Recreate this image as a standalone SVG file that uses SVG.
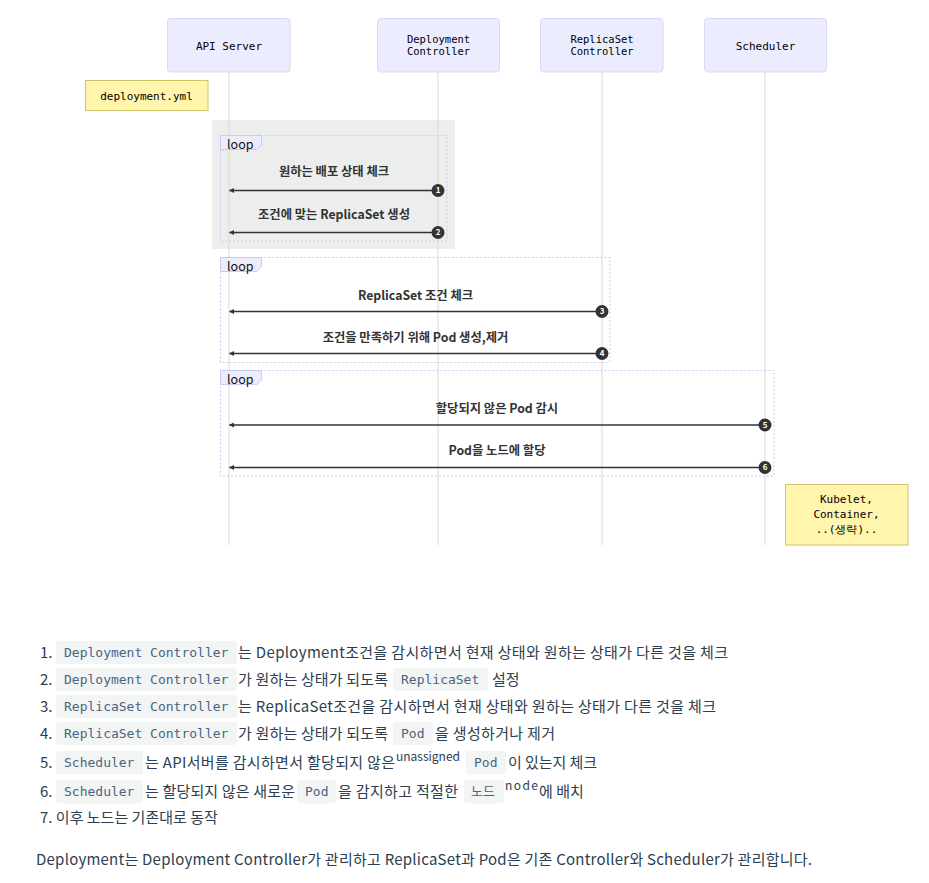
<svg xmlns="http://www.w3.org/2000/svg" width="929" height="883" viewBox="0 0 929 883">
<defs>
<style>
.actor{fill:#ECECFF;stroke:#dcd7f3;stroke-width:1}
.alabel{font-family:"DejaVu Sans Mono","Liberation Mono",monospace;font-size:11px;fill:#000;text-anchor:middle}
.alabel2{font-family:"DejaVu Sans Mono","Liberation Mono",monospace;font-size:10.5px;fill:#000;text-anchor:middle}
.life{stroke:#d8d8d8;stroke-width:1}
.note{fill:#fff5ad;stroke:#cdc46a;stroke-width:1}
.loop{fill:none;stroke:#cfc9ef;stroke-width:1;stroke-dasharray:2,2}
.tab{fill:#ECECFF;stroke:#cfc9ef;stroke-width:1}
.tabt{font-family:"Noto Sans CJK KR","Noto Sans",sans-serif;font-size:12.5px;fill:#111}
.msg{stroke:#333;stroke-width:1.6;fill:none;marker-end:url(#ah)}
.mlabel{font-family:"Noto Sans CJK KR","Noto Sans",sans-serif;font-size:12.3px;font-weight:700;fill:#333;text-anchor:middle}
.seq{fill:#333}
.seqt{font-family:"Noto Sans CJK KR","Noto Sans",sans-serif;font-size:8px;font-weight:700;fill:#fff;text-anchor:middle}
.t{font-family:"Noto Sans CJK KR","Noto Sans",sans-serif;font-size:15px;fill:#2c3e50}
.sup{font-family:"Noto Sans CJK KR","Noto Sans",sans-serif;font-size:12px;fill:#2c3e50}
.cbox{fill:#f3f4f4}
.ct{font-family:"DejaVu Sans Mono","Liberation Mono","Noto Sans CJK KR",monospace;font-size:13px;fill:#476582}
</style>
<marker id="ah" viewBox="0 0 10 10" refX="9" refY="5" markerWidth="5" markerHeight="5" orient="auto-start-reverse" markerUnits="userSpaceOnUse">
<path d="M0,0 L10,5 L0,10 z" fill="#333"/>
</marker>
</defs>

<g id="loop1-bg"><rect x="212" y="120" width="243" height="129" fill="#eceeed"/></g>

<g id="lifelines">
<line class="life" x1="229" y1="72" x2="229" y2="545"/>
<line class="life" x1="438" y1="72" x2="438" y2="545"/>
<line class="life" x1="602" y1="72" x2="602" y2="545"/>
<line class="life" x1="765" y1="72" x2="765" y2="545"/>
</g>

<g id="actor-api"><rect class="actor" x="167.5" y="18.5" width="122.5" height="53.5" rx="3"/><text class="alabel" x="229" y="49.5">API Server</text></g>
<g id="actor-deploy"><rect class="actor" x="377.5" y="18.5" width="122" height="53.5" rx="3"/><text class="alabel2" x="438.5" y="43">Deployment</text><text class="alabel2" x="438.5" y="55">Controller</text></g>
<g id="actor-replica"><rect class="actor" x="540.5" y="18.5" width="122.5" height="53.5" rx="3"/><text class="alabel2" x="602" y="43">ReplicaSet</text><text class="alabel2" x="602" y="55">Controller</text></g>
<g id="actor-scheduler"><rect class="actor" x="704.5" y="18.5" width="122" height="53.5" rx="3"/><text class="alabel" x="765.5" y="49.5">Scheduler</text></g>

<g id="note-deployment"><rect class="note" x="85.5" y="80.5" width="122.5" height="30"/><text class="alabel" x="146.5" y="99.5">deployment.yml</text></g>
<g id="note-kubelet"><rect class="note" x="785.5" y="484.5" width="122.5" height="60.5"/>
<text class="alabel" x="846.5" y="503">Kubelet,</text><text class="alabel" x="846.5" y="518">Container,</text><text class="alabel" x="846.5" y="533">..(생략)..</text></g>

<g id="loop1"><rect class="loop" x="220.5" y="135.5" width="226.5" height="105.5"/>
<polygon class="tab" points="220.5,135.5 261.5,135.5 261.5,145 257,149.5 220.5,149.5"/>
<text class="tabt" x="227" y="149">loop</text></g>
<g id="loop2"><rect class="loop" x="220.5" y="257.5" width="389.5" height="105"/>
<polygon class="tab" points="220.5,257.5 261.5,257.5 261.5,267 257,271.5 220.5,271.5"/>
<text class="tabt" x="227" y="271">loop</text></g>
<g id="loop3"><rect class="loop" x="220.5" y="370.5" width="553.5" height="105.5"/>
<polygon class="tab" points="220.5,370.5 261.5,370.5 261.5,380 257,384.5 220.5,384.5"/>
<text class="tabt" x="227" y="384">loop</text></g>

<g id="connectors">
<line class="msg" x1="438" y1="190.5" x2="229.5" y2="190.5"/>
<line class="msg" x1="438" y1="232.5" x2="229.5" y2="232.5"/>
<line class="msg" x1="602" y1="311.5" x2="229.5" y2="311.5"/>
<line class="msg" x1="602" y1="353.5" x2="229.5" y2="353.5"/>
<line class="msg" x1="765" y1="425" x2="229.5" y2="425"/>
<line class="msg" x1="765" y1="467.5" x2="229.5" y2="467.5"/>
<text class="mlabel" x="334" y="176">원하는 배포 상태 체크</text>
<text class="mlabel" x="334" y="219">조건에 맞는 ReplicaSet 생성</text>
<text class="mlabel" x="415.5" y="299.5">ReplicaSet 조건 체크</text>
<text class="mlabel" x="415.5" y="341.5">조건을 만족하기 위해 Pod 생성,제거</text>
<text class="mlabel" x="497" y="412.5">할당되지 않은 Pod 감시</text>
<text class="mlabel" x="497" y="454.5">Pod을 노드에 할당</text>
<circle class="seq" cx="438" cy="190.5" r="6.5"/><text class="seqt" x="438" y="193.3">1</text>
<circle class="seq" cx="438" cy="232.5" r="6.5"/><text class="seqt" x="438" y="235.3">2</text>
<circle class="seq" cx="602" cy="311.5" r="6.5"/><text class="seqt" x="602" y="314.3">3</text>
<circle class="seq" cx="602" cy="353.5" r="6.5"/><text class="seqt" x="602" y="356.3">4</text>
<circle class="seq" cx="765" cy="425" r="6.5"/><text class="seqt" x="765" y="427.8">5</text>
<circle class="seq" cx="765" cy="467.5" r="6.5"/><text class="seqt" x="765" y="470.3">6</text>
</g>

<g id="list">
<text class="t" x="40" y="658">1.</text>
<rect class="cbox" x="56" y="641" width="181" height="23" rx="3"/><text class="ct" x="64" y="657">Deployment Controller</text>
<text class="t" x="238" y="658" textLength="490" lengthAdjust="spacing">는 Deployment조건을 감시하면서 현재 상태와 원하는 상태가 다른 것을 체크</text>

<text class="t" x="40" y="685">2.</text>
<rect class="cbox" x="56" y="668" width="181" height="23" rx="3"/><text class="ct" x="64" y="684">Deployment Controller</text>
<text class="t" x="238" y="685" textLength="150" lengthAdjust="spacing">가 원하는 상태가 되도록</text>
<rect class="cbox" x="393" y="668" width="95" height="23" rx="3"/><text class="ct" x="401" y="684">ReplicaSet</text>
<text class="t" x="492" y="685">설정</text>

<text class="t" x="40" y="712">3.</text>
<rect class="cbox" x="56" y="695" width="181" height="23" rx="3"/><text class="ct" x="64" y="711">ReplicaSet Controller</text>
<text class="t" x="238" y="712" textLength="478" lengthAdjust="spacing">는 ReplicaSet조건을 감시하면서 현재 상태와 원하는 상태가 다른 것을 체크</text>

<text class="t" x="40" y="739">4.</text>
<rect class="cbox" x="56" y="722" width="181" height="23" rx="3"/><text class="ct" x="64" y="738">ReplicaSet Controller</text>
<text class="t" x="238" y="739" textLength="150" lengthAdjust="spacing">가 원하는 상태가 되도록</text>
<rect class="cbox" x="393" y="722" width="40" height="23" rx="3"/><text class="ct" x="401" y="738">Pod</text>
<text class="t" x="435" y="739" textLength="120" lengthAdjust="spacing">을 생성하거나 제거</text>

<text class="t" x="40" y="768">5.</text>
<rect class="cbox" x="56" y="751" width="87" height="23.5" rx="3"/><text class="ct" x="64" y="767">Scheduler</text>
<text class="t" x="145" y="768" textLength="250" lengthAdjust="spacing">는 API서버를 감시하면서 할당되지 않은</text>
<text class="sup" x="396" y="761" textLength="64" lengthAdjust="spacing">unassigned</text>
<rect class="cbox" x="466" y="751" width="40" height="23.5" rx="3"/><text class="ct" x="474" y="767">Pod</text>
<text class="t" x="508" y="768" textLength="89" lengthAdjust="spacing">이 있는지 체크</text>

<text class="t" x="40" y="797">6.</text>
<rect class="cbox" x="56" y="780" width="87" height="23.5" rx="3"/><text class="ct" x="64" y="796">Scheduler</text>
<text class="t" x="145" y="797" textLength="150" lengthAdjust="spacing">는 할당되지 않은 새로운</text>
<rect class="cbox" x="297" y="780" width="39" height="23.5" rx="3"/><text class="ct" x="305" y="796">Pod</text>
<text class="t" x="338" y="797" textLength="120" lengthAdjust="spacing">을 감지하고 적절한</text>
<rect class="cbox" x="464" y="780" width="40" height="23.5" rx="3"/><text class="ct" x="471" y="796">노드</text>
<text class="sup" x="505" y="790" textLength="33" lengthAdjust="spacing">node</text>
<text class="t" x="539" y="797">에 배치</text>

<text class="t" x="40" y="823">7. 이후 노드는 기존대로 동작</text>

<text class="t" x="36" y="865" textLength="776" lengthAdjust="spacing">Deployment는 Deployment Controller가 관리하고 ReplicaSet과 Pod은 기존 Controller와 Scheduler가 관리합니다.</text>
</g>
</svg>
